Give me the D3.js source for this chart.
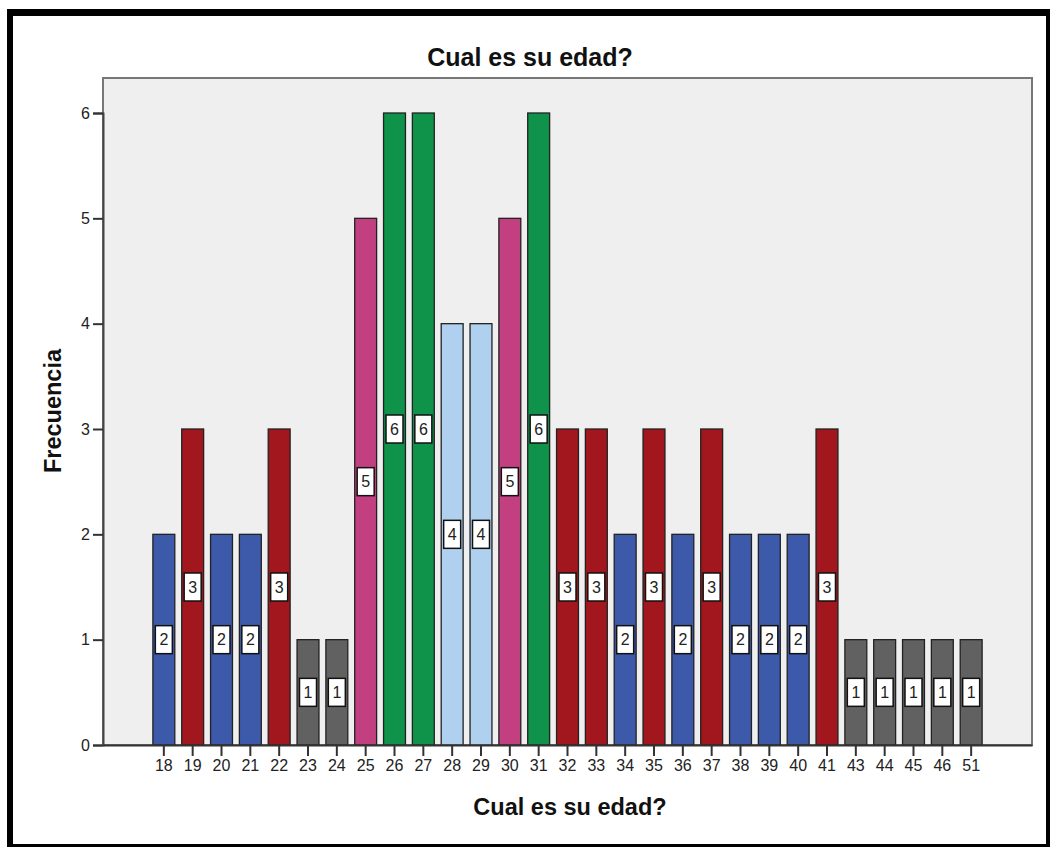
<!DOCTYPE html>
<html>
<head>
<meta charset="utf-8">
<script src="https://cdn.jsdelivr.net/npm/d3@7"></script>
<style>
  html, body { margin: 0; padding: 0; background: #fff; }
  svg { display: block; font-family: "Liberation Sans", Arial, sans-serif; }
</style>
</head>
<body>
<svg id="chart" width="1050" height="847"></svg>
<script>
// Age categories and their frequencies
const ages = ["18","19","20","21","22","23","24","25","26","27","28","29","30","31",
              "32","33","34","35","36","37","38","39","40","41","43","44","45","46","51"];
const counts = [2,3,2,2,3,1,1,5,6,6,4,4,5,6,3,3,2,3,2,3,2,2,2,3,1,1,1,1,1];
const yTicks = [0,1,2,3,4,5,6];

// Fill colour by frequency value
const freqLevels = [1,2,3,4,5,6];
const freqColors = ["#616161","#3d59a9","#a2171d","#afd0ef","#c23f80","#0f9249"];

const title = "Cual es su edad?";
const xTitle = "Cual es su edad?";
const yTitle = "Frecuencia";

const data = ages.map((a, i) => ({ age: a, n: counts[i] }));

const svg = d3.select("#chart");
const plot = { left: 103, right: 1032, top: 78, bottom: 745 };

// outer frame
svg.append("rect").attr("x", 7).attr("y", 9).attr("width", 6).attr("height", 838).attr("fill", "#000");
svg.append("rect").attr("x", 7).attr("y", 9).attr("width", 1043).attr("height", 7).attr("fill", "#000");
svg.append("rect").attr("x", 1046).attr("y", 9).attr("width", 4).attr("height", 838).attr("fill", "#000");
svg.append("rect").attr("x", 7).attr("y", 844).attr("width", 1043).attr("height", 3).attr("fill", "#000");

const x = d3.scaleBand()
  .domain(ages)
  .range([plot.left, plot.right])
  .paddingInner(0.24)
  .paddingOuter(1.73);

const y = d3.scaleLinear()
  .domain([0, 6])
  .range([plot.bottom, 113]);

const color = d3.scaleOrdinal().domain(freqLevels).range(freqColors);

// plot background
svg.append("rect")
  .attr("x", plot.left).attr("y", plot.top)
  .attr("width", plot.right - plot.left).attr("height", plot.bottom - plot.top)
  .attr("fill", "#efefef")
  .attr("stroke", "#777").attr("stroke-width", 2);

// bars
svg.append("g").selectAll("rect")
  .data(data)
  .join("rect")
  .attr("x", d => x(d.age))
  .attr("y", d => y(d.n))
  .attr("width", x.bandwidth())
  .attr("height", d => y(0) - y(d.n))
  .attr("fill", d => color(d.n))
  .attr("stroke", "#222")
  .attr("stroke-width", 1.3);

// value labels in boxes at bar mid-height
const lab = svg.append("g").selectAll("g")
  .data(data)
  .join("g")
  .attr("transform", d => `translate(${x(d.age) + x.bandwidth() / 2},${y(d.n / 2)})`);
lab.append("rect")
  .attr("x", -8.5).attr("y", -14)
  .attr("width", 17).attr("height", 28)
  .attr("fill", "#fff")
  .attr("stroke", "#111").attr("stroke-width", 1.5);
lab.append("text")
  .attr("text-anchor", "middle")
  .attr("dy", "0.36em")
  .attr("font-size", 16)
  .attr("fill", "#222")
  .text(d => d.n);

// y axis
const yAxis = svg.append("g")
  .attr("transform", `translate(${plot.left},0)`)
  .call(d3.axisLeft(y).tickValues(yTicks).tickFormat(d3.format("d")).tickSize(10).tickPadding(3));
yAxis.select(".domain").attr("stroke", "#444").attr("stroke-width", 2);
yAxis.selectAll(".tick line").attr("stroke", "#333").attr("stroke-width", 2);
yAxis.selectAll(".tick text").attr("font-size", 16).attr("fill", "#222")
  .attr("font-family", "Liberation Sans, Arial, sans-serif");

// x axis
const xAxis = svg.append("g")
  .attr("transform", `translate(0,${plot.bottom})`)
  .call(d3.axisBottom(x).tickSize(11).tickPadding(4).tickSizeOuter(0));
xAxis.select(".domain").attr("stroke", "#333").attr("stroke-width", 2);
xAxis.selectAll(".tick line").attr("stroke", "#333").attr("stroke-width", 2);
xAxis.selectAll(".tick text").attr("font-size", 16).attr("fill", "#222")
  .attr("font-family", "Liberation Sans, Arial, sans-serif");

// titles
svg.append("text")
  .attr("x", 530).attr("y", 66)
  .attr("text-anchor", "middle")
  .attr("font-size", 25).attr("font-weight", "bold").attr("fill", "#111")
  .text(title);

svg.append("text")
  .attr("x", 570).attr("y", 815)
  .attr("text-anchor", "middle")
  .attr("font-size", 23.5).attr("font-weight", "bold").attr("fill", "#111")
  .text(xTitle);

svg.append("text")
  .attr("transform", "translate(61,411) rotate(-90)")
  .attr("text-anchor", "middle")
  .attr("font-size", 23.5).attr("font-weight", "bold").attr("fill", "#111")
  .text(yTitle);
</script>
</body>
</html>
